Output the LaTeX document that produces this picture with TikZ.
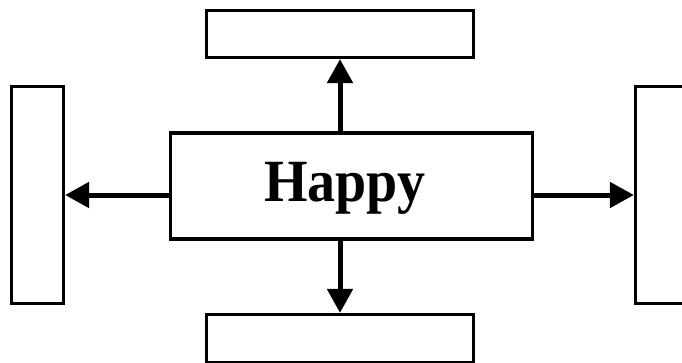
\documentclass[tikz,border=0pt]{standalone}
\usepackage{fontspec}
\setmainfont{Liberation Serif}
\usetikzlibrary{arrows.meta}
\begin{document}
\begin{tikzpicture}[x=1pt,y=-1pt,
  box/.style={draw=black,line width=3.2pt,fill=white,inner sep=0pt},
  arr/.style={line width=5pt,-{Triangle[length=24pt,width=25pt]}}]
\useasboundingbox (0,0) rectangle (682,362);
\begin{scope}
\clip (0,0) rectangle (682,362);
\node[box,minimum width=362pt,minimum height=106pt] (c) at (351.5,186) {};
\node[font=\bfseries\fontsize{56}{60}\selectfont,anchor=base,inner sep=0pt] (h) at (345,201) {\scalebox{1}[1.07]{Happy}};
\node[box,minimum width=267pt,minimum height=47pt] (t) at (340,34) {};
\node[box,minimum width=267pt,minimum height=48pt] (b) at (340,338.5) {};
\node[box,minimum width=52pt,minimum height=217pt] (l) at (37.5,195) {};
\node[box,minimum width=52pt,minimum height=217pt] (r) at (661.5,195) {};
\draw[arr] (t.south |- c.north) -- (t.south);
\draw[arr] (b.north |- c.south) -- (b.north);
\draw[arr] (c.west |- l.east) -- (l.east);
\draw[arr] (c.east |- r.west) -- (r.west);
\end{scope}
\end{tikzpicture}
\end{document}
